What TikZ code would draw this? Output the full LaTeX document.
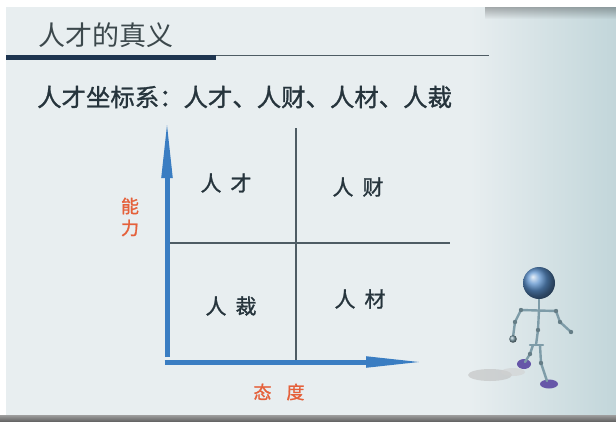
\documentclass[tikz,border=0pt]{standalone}
\usepackage{fontspec}
\newfontfamily\cjk{Noto Sans CJK SC}
\newfontfamily\cjkmed[FakeBold=1.2]{Noto Sans CJK SC}
\usetikzlibrary{arrows.meta}
\definecolor{slidebg}{HTML}{E8EEF0}
\definecolor{slideedge}{HTML}{C2D6DA}
\definecolor{titlefg}{HTML}{3C484C}
\definecolor{textfg}{HTML}{26343C}
\definecolor{barnavy}{HTML}{1E3550}
\definecolor{axisblue}{HTML}{3A7DC2}
\definecolor{gridgray}{HTML}{4E5C64}
\definecolor{labelred}{HTML}{E5603A}
\definecolor{robotblue}{HTML}{3F7EC4}
\definecolor{robotlimb}{HTML}{7E9CA8}
\definecolor{robotfoot}{HTML}{6656A8}
\tikzset{
  axisarrow/.style={draw=axisblue, line width=5pt,
    -{Triangle[length=60pt,width=10pt]}},
  gridline/.style={draw=gridgray, line width=1.1pt},
  quadlabel/.style={font=\cjkmed\fontsize{21}{21}\selectfont, text=textfg, inner sep=0pt},
  axislabel/.style={font=\cjkmed\fontsize{18}{18}\selectfont, text=labelred, inner sep=0pt},
  limb/.style={draw=robotlimb, line width=2.4pt, line cap=round},
  joint/.style={fill=robotlimb!80!black, draw=none},
}
\begin{document}
\begin{tikzpicture}[x=1pt,y=-1pt]
  \useasboundingbox (0,0) rectangle (616,421);
  % page and slide background
  \fill[white] (0,0) rectangle (616,421);
  \fill[slidebg] (6,7) rectangle (616,416);
  \shade[left color=slidebg, right color=slideedge] (470,7) rectangle (616,416);
  \foreach \i in {0,...,11}
    \fill[black, opacity={0.28*(1-\i/12)}] (485,7+\i) rectangle (616,8+\i);
  \shade[top color=black!38, bottom color=black!60] (0,415) rectangle (616,421);

  % title and its rule
  \node[anchor=west, font=\cjk\fontsize{27}{27}\selectfont, text=titlefg, inner sep=0pt]
    (title) at (38,35) {人才的真义};
  \fill[barnavy] (6,55) rectangle (216,60);
  \draw[gridgray, line width=1pt] (216,55.5) -- (489,55.5);

  % subtitle
  \node[anchor=west, font=\cjkmed\fontsize{24.4}{24.4}\selectfont, text=textfg, inner sep=0pt]
    (subtitle) at (37,97) {人才坐标系：人才、人财、人材、人裁};

  % coordinate frame
  \coordinate (O) at (167,362);
  \coordinate (ytip) at (167,118);
  \coordinate (xtip) at (426,362);
  \coordinate (vtop) at (296,128);
  \coordinate (vbot) at (296,362);
  \coordinate (hleft) at (170,243);
  \coordinate (hright) at (450,243);
  \draw[gridline] (vtop) -- (vbot);
  \draw[gridline] (hleft) -- (hright);
  \draw[axisarrow] ([yshift=5pt]O) -- (ytip);
  \draw[axisarrow] ([xshift=-2.5pt]O) -- (xtip);

  % quadrant labels
  \node[quadlabel] (q1) at (226,183) {人\hspace{9pt}才};
  \node[quadlabel] (q2) at (358,187) {人\hspace{9pt}财};
  \node[quadlabel] (q3) at (231,306) {人\hspace{9pt}裁};
  \node[quadlabel] (q4) at (360,299) {人\hspace{9pt}材};

  % axis labels
  \node[axislabel] (ability1) at (130,206) {能};
  \node[axislabel] (ability2) at (130,228) {力};
  \node[axislabel] (attitude) at (279,392) {态\hspace{15pt}度};

  % walking figure
  \fill[black!25, opacity=0.6] (490,375) ellipse (22pt and 6pt);
  \fill[black!18, opacity=0.6] (513,372) ellipse (12pt and 4pt);
  \fill[robotfoot] (524,364) ellipse (7pt and 5pt);
  \fill[robotfoot] (549,384) ellipse (9pt and 4.5pt);
  \draw[limb] (539,298) -- (539,310);
  \draw[limb] (521,310) -- (556,311);
  \draw[limb] (521,310) -- (515,322) -- (513,337);
  \draw[limb] (556,311) -- (560,322) -- (571,332);
  \draw[limb] (539,310) -- (538,330) -- (536,345);
  \draw[limb] (533,345) -- (530,354) -- (525,362);
  \draw[limb] (540,345) -- (541,363) -- (547,381);
  \draw[limb] (530,345) -- (543,345);
  \foreach \p in {(521,310),(556,311),(515,322),(560,322),(538,330),(530,354),(541,363),(571,332)}
    \fill[joint] \p circle (2.2pt);
  \shade[ball color=robotlimb] (513,339) circle (3.8pt);
  \shade[ball color=robotblue!85!white] (539,283) circle (16pt);
\end{tikzpicture}
\end{document}
